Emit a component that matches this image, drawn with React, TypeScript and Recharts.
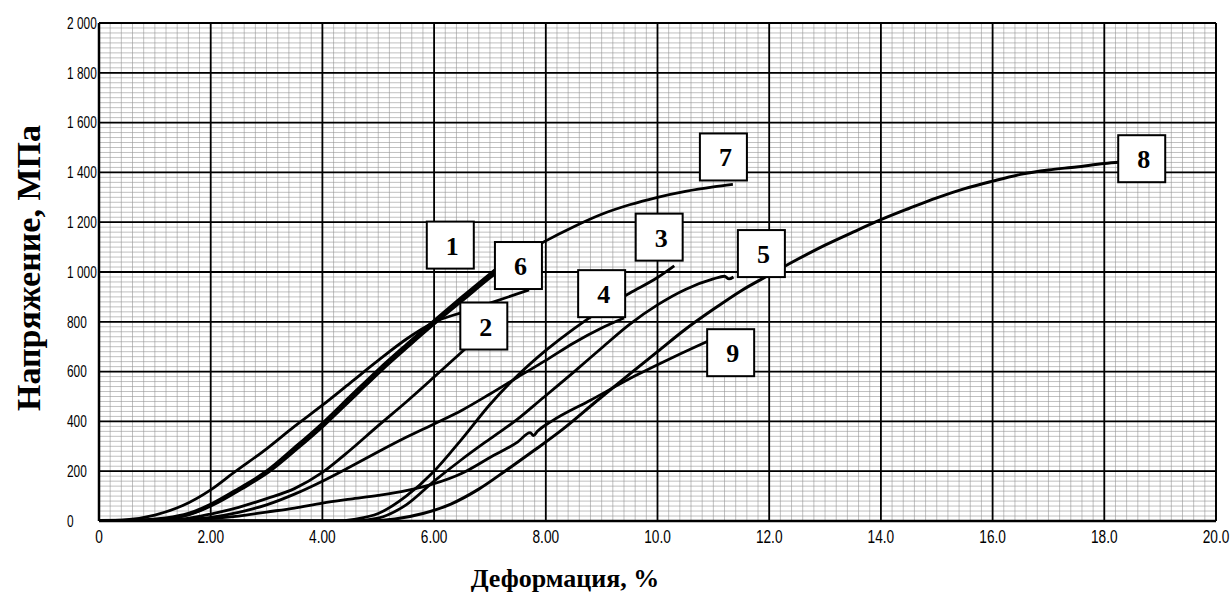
import React from 'react';
import { LineChart, Line, XAxis, YAxis, CartesianGrid, ReferenceDot, ReferenceLine, Label } from 'recharts';

// strain, % / stress, MPa
const strainTicks = [0, 2, 4, 6, 8, 10, 12, 14, 16, 18, 20];
const strainTickLabels = ['0', '2.00', '4.00', '6.00', '8.00', '10.0', '12.0', '14.0', '16.0', '18.0', '20.0'];
const stressTicks = [0, 200, 400, 600, 800, 1000, 1200, 1400, 1600, 1800, 2000];
const stressTickLabels = ['0', '200', '400', '600', '800', '1 000', '1 200', '1 400', '1 600', '1 800', '2 000'];

const curve1 = [[0, 0], [0.8, 3], [1.2, 10], [1.6, 28], [2.0, 65], [2.5, 128], [3.0, 198], [3.5, 292], [4.0, 390], [4.5, 498], [5.0, 605], [5.5, 705], [6.0, 802], [6.5, 897], [7.1, 1008]];
const curve2 = [[0, 0], [1.0, 2], [1.5, 8], [2.0, 28], [2.5, 55], [3.0, 90], [3.5, 130], [4.0, 195], [4.5, 285], [5.0, 383], [5.5, 478], [6.0, 578], [6.55, 690]];
const curve3 = [[0, 0], [4.2, 0], [4.6, 8], [5.0, 30], [5.5, 100], [6.0, 200], [6.5, 330], [7.0, 468], [7.5, 585], [8.0, 685], [8.5, 772], [9.0, 848], [9.5, 915], [10.0, 978], [10.3, 1025]];
const curve4 = [[0, 0], [1.0, 1], [1.5, 5], [2.0, 15], [2.5, 35], [3.0, 65], [3.5, 108], [4.0, 160], [4.5, 218], [5.0, 278], [5.5, 336], [6.0, 390], [6.5, 445], [7.0, 510], [7.5, 578], [8.0, 645], [8.5, 715], [9.0, 775], [9.4, 815]];
const curve5 = [[0, 0], [4.5, 0], [5.0, 12], [5.5, 65], [6.0, 160], [6.5, 248], [7.0, 330], [7.5, 410], [7.9, 485], [8.5, 598], [9.0, 695], [9.5, 790], [10.0, 868], [10.5, 930], [11.0, 972], [11.2, 983], [11.28, 972], [11.36, 980]];
const curve6 = [[0, 0], [0.5, 5], [1.0, 24], [1.5, 62], [2.0, 125], [2.4, 192], [3.0, 290], [3.5, 380], [4.0, 465], [4.5, 555], [5.0, 645], [5.5, 730], [6.0, 798], [6.5, 838], [7.0, 875], [7.7, 928]];
const curve7 = [[0, 0], [0.85, 3], [1.25, 10], [1.65, 28], [2.05, 65], [2.55, 128], [3.05, 198], [3.55, 290], [4.05, 388], [4.55, 495], [5.05, 603], [5.55, 703], [6.05, 800], [6.55, 893], [7.05, 985], [7.5, 1060], [8.0, 1125], [8.5, 1182], [9.0, 1232], [9.5, 1270], [10.0, 1300], [10.5, 1324], [11.0, 1342], [11.35, 1352]];
const curve8 = [[0, 0], [4.8, 0], [5.3, 8], [5.8, 30], [6.3, 68], [6.8, 128], [7.3, 205], [7.8, 285], [8.3, 368], [8.9, 480], [9.5, 590], [10.0, 680], [10.5, 770], [11.0, 850], [11.5, 925], [12.0, 988], [12.5, 1050], [13.0, 1108], [13.5, 1160], [14.0, 1210], [14.5, 1255], [15.0, 1298], [15.5, 1335], [16.0, 1365], [16.5, 1392], [17.0, 1410], [17.5, 1422], [18.0, 1436], [18.3, 1442]];
const curve9 = [[0, 0], [1.0, 2], [1.5, 5], [2.0, 10], [2.5, 20], [3.0, 36], [3.5, 52], [4.0, 72], [4.5, 88], [5.0, 103], [5.5, 122], [6.0, 150], [6.5, 192], [7.0, 255], [7.5, 318], [7.72, 355], [7.78, 343], [7.85, 360], [8.1, 400], [8.8, 485], [9.6, 583], [10.3, 660], [10.9, 722]];

// curve number boxes (centre point)
const labelNames = ['1', '2', '3', '4', '5', '6', '7', '8', '9'];
const labelStrain = [6.29, 6.89, 10.03, 9.0, 11.86, 7.51, 11.18, 18.67, 11.31];
const labelStress = [1108, 783, 1140, 913, 1074, 1026, 1462, 1455, 676];

const series = [
  { name: '1', points: curve1, width: 4 },
  { name: '2', points: curve2, width: 2.8 },
  { name: '3', points: curve3, width: 2.8 },
  { name: '4', points: curve4, width: 2.8 },
  { name: '5', points: curve5, width: 2.8 },
  { name: '6', points: curve6, width: 2.8 },
  { name: '7', points: curve7, width: 2.8 },
  { name: '8', points: curve8, width: 3 },
  { name: '9', points: curve9, width: 2.8 },
];

// graph paper
const minorStrain = Array.from({ length: 101 }, (_, i) => Math.round(i * 2) / 10);
const minorStress = Array.from({ length: 101 }, (_, i) => i * 20);

const tickFont = '"Liberation Sans", Arial, sans-serif';
const titleFont = '"Liberation Serif", "Times New Roman", serif';

const NumberBox = (props: any) => {
  const { cx, cy, text } = props;
  if (cx == null || cy == null) return null;
  return (
    <g>
      <rect x={cx - 23.5} y={cy - 23.5} width={47} height={47} fill="#fff" stroke="#000" strokeWidth={2} />
      <text x={cx + 2} y={cy + 1} textAnchor="middle" dominantBaseline="central" fontFamily={titleFont} fontWeight="bold" fontSize={26} fill="#000">
        {text}
      </text>
    </g>
  );
};

// condensed tick text, like the scanned chart paper
const StressTick = (props: any) => {
  const { y, payload } = props;
  return (
    <text
      transform={`translate(67 ${y}) scale(0.7 1)`}
      textAnchor="start"
      dominantBaseline="central"
      fontFamily={tickFont}
      fontSize={17}
      fill="#000"
    >
      {stressTickLabels[stressTicks.indexOf(payload.value)]}
    </text>
  );
};

const StrainTick = (props: any) => {
  const { x, payload } = props;
  return (
    <text
      transform={`translate(${x} 537) scale(0.72 1)`}
      textAnchor="middle"
      dominantBaseline="central"
      fontFamily={tickFont}
      fontSize={19}
      fill="#000"
    >
      {strainTickLabels[strainTicks.indexOf(payload.value)]}
    </text>
  );
};

const App: React.FC = () => {
  return (
    <div style={{ width: 1231, height: 594, background: '#fff' }}>
      <style>{'body{margin:0}'}</style>
      <LineChart width={1231} height={594} margin={{ top: 23, right: 15, bottom: 0, left: 0 }}>
        <CartesianGrid
          stroke="#959595"
          strokeWidth={0.6}
          horizontalValues={minorStress}
          verticalValues={minorStrain}
        />
        <CartesianGrid stroke="#000" strokeWidth={1.8} />
        <XAxis
          type="number"
          dataKey="x"
          domain={[0, 20]}
          ticks={strainTicks}
          interval={0}
          allowDataOverflow
          height={73}
          tickSize={0}
          tickLine={false}
          axisLine={{ stroke: '#000', strokeWidth: 2.5 }}
          tick={<StrainTick />}
        >
          <Label
            content={() => (
              <text x={565} y={587} textAnchor="middle" fontFamily={titleFont} fontWeight="bold" fontSize={26} fill="#000">
                Деформация, %
              </text>
            )}
          />
        </XAxis>
        <YAxis
          type="number"
          domain={[0, 2000]}
          ticks={stressTicks}
          interval={0}
          allowDataOverflow
          width={99}
          tickSize={0}
          tickLine={false}
          axisLine={{ stroke: '#000', strokeWidth: 2.5 }}
          tick={<StressTick />}
        >
          <Label
            content={() => (
              <text
                x={28}
                y={268}
                transform="rotate(-90 28 268)"
                textAnchor="middle"
                dominantBaseline="central"
                fontFamily={titleFont}
                fontWeight="bold"
                fontSize={34}
                fill="#000"
              >
                Напряжение, МПа
              </text>
            )}
          />
        </YAxis>
        <ReferenceLine x={20} stroke="#000" strokeWidth={1.8} />
        <ReferenceLine y={2000} stroke="#000" strokeWidth={1.8} />
        {series.map((s) => (
          <Line
            key={s.name}
            data={s.points.map(([x, y]) => ({ x, y }))}
            dataKey="y"
            name={s.name}
            type="monotone"
            stroke="#000"
            strokeWidth={s.width}
            dot={false}
            activeDot={false}
            isAnimationActive={false}
          />
        ))}
        {labelNames.map((n, i) => (
          <ReferenceDot
            key={n}
            x={labelStrain[i]}
            y={labelStress[i]}
            r={0}
            shape={(p: any) => <NumberBox {...p} text={n} />}
          />
        ))}
      </LineChart>
    </div>
  );
};

export default App;
